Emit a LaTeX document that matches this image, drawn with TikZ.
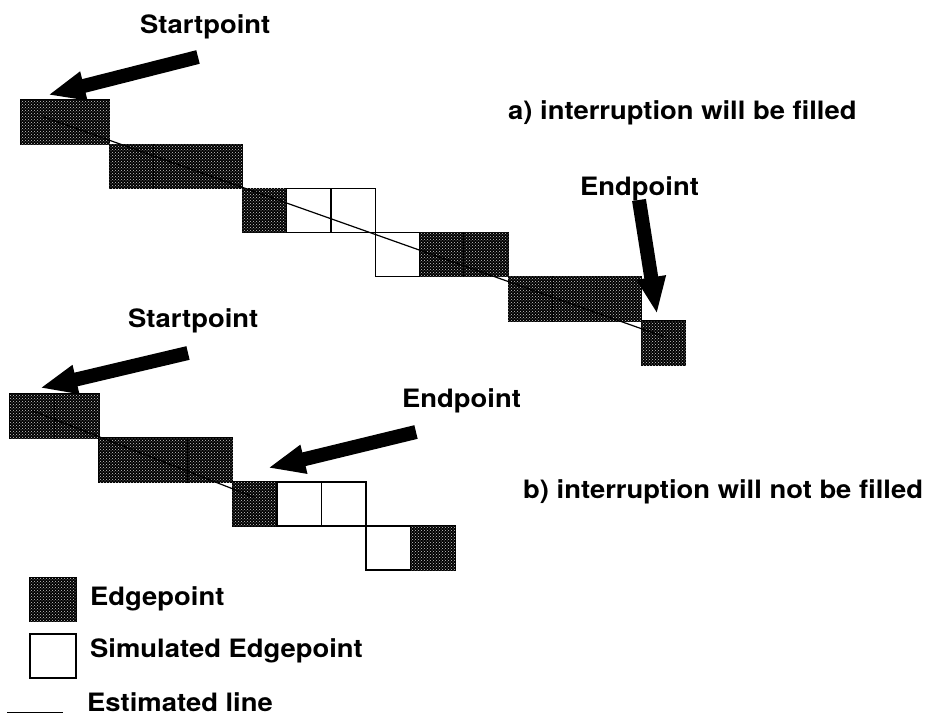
\documentclass[tikz,border=0pt]{standalone}
\usepackage{fontspec}
\newfontfamily\etiq{TeX Gyre Heros}[FakeStretch=1.083]
\usetikzlibrary{arrows.meta,patterns}

\tikzset{
  plein/.style={draw=black, line width=1.2pt, fill=black,
    postaction={pattern=crosshatch dots, pattern color=white!80!black}},
  vide/.style={draw=black, line width=1.3pt, fill=white},
  droite/.style={line width=1.2pt},
  fleche/.style={line width=14pt, -{Triangle[length=37pt,width=27pt]}},
  texte/.style={anchor=base west, inner sep=0pt,
    font=\etiq\bfseries\fontsize{25.3}{30}\selectfont},
}

\begin{document}
\begin{tikzpicture}[x=1pt,y=-1pt]
  \useasboundingbox (0,0) rectangle (927,715);
  % a) cases
  \begin{scope}[shift={(21,100)},x=44.3pt,y=-44.2pt]
    \foreach \c/\r in {0/0,1/0,2/1,3/1,4/1,5/2,9/3,10/3,11/4,12/4,13/4,14/5}
      \draw[plein] (\c,\r) rectangle ++(1,1);
    \foreach \c/\r in {6/2,7/2,8/3}
      \draw[vide] (\c,\r) rectangle ++(1,1);
    % droite estimee
    \coordinate (line-a-start) at (0.5,0.38);
    \coordinate (line-a-end) at (14.5,5.35);
    \draw[droite] (line-a-start) -- (line-a-end);
  \end{scope}
  % b) cases
  \begin{scope}[shift={(10,394)},x=44.5pt,y=-44pt]
    \foreach \c/\r in {0/0,1/0,2/1,3/1,4/1,5/2,9/3}
      \draw[plein] (\c,\r) rectangle ++(1,1);
    \foreach \c/\r in {6/2,7/2,8/3}
      \draw[vide] (\c,\r) rectangle ++(1,1);
    % droite estimee
    \coordinate (line-b-start) at (0.5,0.38);
    \coordinate (line-b-end) at (5.5,2.35);
    \draw[droite] (line-b-start) -- (line-b-end);
  \end{scope}

  % Textes
  \node[texte] (start-a) at (140,33) {Startpoint};
  \node[texte] (case-a) at (508,119) {a) interruption will be filled};
  \node[texte] (end-a) at (580,195) {Endpoint};
  \node[texte] (start-b) at (128,327) {Startpoint};
  \node[texte] (end-b) at (402,407) {Endpoint};
  \node[texte] (case-b) at (523,498) {b) interruption will not be filled};

  % Fleches
  \coordinate (start-a-tail) at (198,57);
  \coordinate (start-a-tip) at (48,95);
  \coordinate (end-a-tail) at (639,200);
  \coordinate (end-a-tip) at (657,314);
  \coordinate (start-b-tail) at (188,353);
  \coordinate (start-b-tip) at (40,388);
  \coordinate (end-b-tail) at (416,432);
  \coordinate (end-b-tip) at (268,468);
  \draw[fleche] (start-a-tail) -- (start-a-tip);
  \draw[fleche] (end-a-tail) -- (end-a-tip);
  \draw[fleche] (start-b-tail) -- (start-b-tip);
  \draw[fleche] (end-b-tail) -- (end-b-tip);

  % Legende
  \draw[plein] (30,578) rectangle (76,621);
  \draw[vide] (30,634) rectangle (76,678);
  \coordinate (key-left) at (7,712);
  \coordinate (key-right) at (63,712);
  \draw[line width=1pt] (key-left) -- (key-right);
  \node[texte] (key-edge) at (90,605) {Edgepoint};
  \node[texte] (key-sim) at (90,657) {Simulated Edgepoint};
  \node[texte] (key-line) at (87,711) {Estimated line};
\end{tikzpicture}
\end{document}
